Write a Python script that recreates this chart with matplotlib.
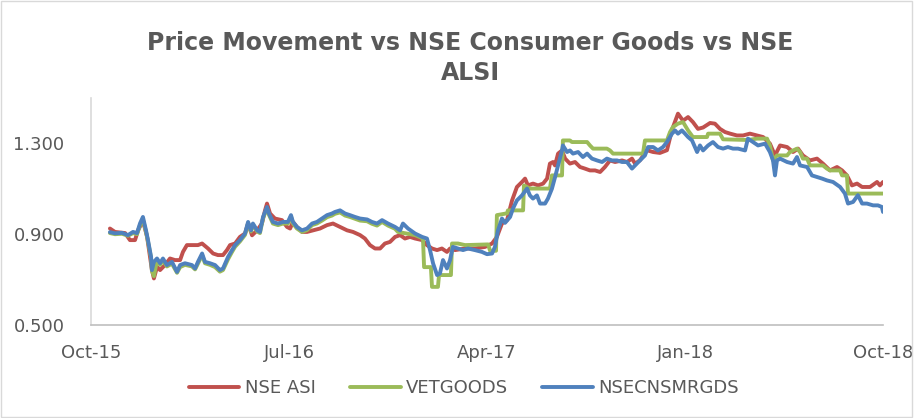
import matplotlib
matplotlib.use("Agg")
import matplotlib.pyplot as plt
from matplotlib.patches import Rectangle

# x positions are months since Oct-2015
asi_t = [0.86, 1.09, 1.55, 1.77, 2.00, 2.14, 2.36, 2.55, 2.68, 2.77, 2.86, 3.00, 3.14, 3.36,
         3.59, 3.82, 4.05, 4.18, 4.36, 4.59, 4.86, 5.05, 5.32, 5.55, 5.77, 6.00, 6.18, 6.32,
         6.55, 6.77, 7.00, 7.14, 7.32, 7.55, 7.77, 7.91, 8.00, 8.14, 8.36, 8.68, 8.91, 9.05,
         9.18, 9.36, 9.59, 9.82, 10.09, 10.41, 10.73, 11.00, 11.32, 11.64, 11.91, 12.23, 12.45,
         12.68, 12.91, 13.14, 13.36, 13.59, 13.82, 14.05, 14.27, 14.50, 14.73, 15.05, 15.27,
         15.50, 15.73, 15.95, 16.18, 16.32, 16.55, 17.00, 17.45, 17.91, 18.23, 18.45, 18.68,
         18.91, 19.14, 19.36, 19.59, 19.73, 19.86, 20.09, 20.32, 20.55, 20.73, 20.86, 21.00,
         21.09, 21.23, 21.41, 21.55, 21.77, 22.00, 22.23, 22.45, 22.68, 22.91, 23.14, 23.36,
         23.59, 23.82, 24.14, 24.36, 24.59, 24.73, 24.95, 25.27, 25.55, 25.86, 26.18, 26.41,
         26.68, 26.91, 27.14, 27.36, 27.59, 27.82, 28.14, 28.36, 28.59, 28.82, 29.05, 29.36,
         29.64, 29.95, 30.27, 30.55, 30.86, 31.09, 31.32, 31.64, 31.91, 32.14, 32.36, 32.68,
         33.00, 33.27, 33.59, 33.91, 34.14, 34.36, 34.59, 34.82, 35.05, 35.41, 35.73, 35.86, 36.00]
asi_v = [0.925, 0.910, 0.905, 0.874, 0.874, 0.917, 0.960, 0.888, 0.800, 0.742, 0.705, 0.756,
         0.742, 0.764, 0.793, 0.786, 0.786, 0.822, 0.852, 0.852, 0.852, 0.859, 0.837, 0.815,
         0.808, 0.808, 0.830, 0.852, 0.859, 0.888, 0.903, 0.947, 0.895, 0.917, 0.947, 1.005,
         1.035, 0.991, 0.969, 0.962, 0.932, 0.925, 0.954, 0.932, 0.910, 0.910, 0.917, 0.925,
         0.940, 0.947, 0.932, 0.917, 0.910, 0.896, 0.881, 0.852, 0.837, 0.837, 0.859, 0.866,
         0.888, 0.896, 0.881, 0.888, 0.881, 0.874, 0.852, 0.837, 0.830, 0.837, 0.822, 0.837,
         0.830, 0.837, 0.837, 0.844, 0.859, 0.888, 0.947, 0.962, 1.049, 1.108, 1.130, 1.145,
         1.115, 1.123, 1.115, 1.123, 1.145, 1.211, 1.218, 1.203, 1.255, 1.269, 1.233, 1.211,
         1.218, 1.196, 1.189, 1.181, 1.181, 1.174, 1.196, 1.225, 1.218, 1.225, 1.218, 1.233,
         1.211, 1.225, 1.270, 1.262, 1.258, 1.270, 1.360, 1.431, 1.400, 1.416, 1.394, 1.364,
         1.370, 1.390, 1.387, 1.364, 1.350, 1.343, 1.335, 1.335, 1.343, 1.335, 1.328, 1.299,
         1.247, 1.291, 1.284, 1.262, 1.277, 1.247, 1.225, 1.233, 1.211, 1.181, 1.196, 1.181,
         1.159, 1.115, 1.123, 1.108, 1.108, 1.130, 1.115, 1.130]

vet_t = [0.86, 1.09, 1.41, 1.68, 1.91, 2.09, 2.23, 2.36, 2.50, 2.59, 2.73, 2.77, 2.86, 3.00,
         3.14, 3.27, 3.45, 3.68, 3.91, 4.05, 4.27, 4.59, 4.73, 4.86, 5.05, 5.18, 5.41, 5.64,
         5.86, 6.00, 6.23, 6.41, 6.55, 6.77, 7.00, 7.14, 7.27, 7.36, 7.55, 7.68, 7.82, 8.00,
         8.09, 8.27, 8.50, 8.73, 8.95, 9.09, 9.18, 9.36, 9.59, 9.82, 10.05, 10.27, 10.50, 10.73,
         10.95, 11.09, 11.32, 11.55, 11.77, 12.00, 12.23, 12.55, 12.77, 13.00, 13.23, 13.50,
         13.82, 13.95, 14.73, 15.09, 15.14, 15.45, 15.50, 15.77, 15.82, 16.36, 16.41, 16.68,
         17.00, 18.05, 18.14, 18.41, 18.45, 18.91, 18.95, 19.64, 19.68, 19.95, 20.86, 20.95,
         21.41, 21.45, 21.77, 21.86, 22.55, 22.68, 22.82, 23.45, 23.59, 23.73, 25.09, 25.18,
         26.18, 26.32, 26.45, 26.68, 26.91, 27.14, 27.36, 28.00, 28.05, 28.59, 28.73, 29.86,
         30.27, 30.73, 30.86, 31.00, 31.18, 31.64, 31.77, 32.09, 32.23, 32.36, 32.55, 32.68,
         33.27, 33.45, 33.59, 34.05, 34.14, 34.36, 34.41, 36.00]
vet_v = [0.905, 0.900, 0.902, 0.893, 0.905, 0.900, 0.940, 0.965, 0.910, 0.868, 0.795, 0.738,
         0.715, 0.785, 0.765, 0.785, 0.758, 0.770, 0.730, 0.755, 0.765, 0.758, 0.745, 0.770,
         0.808, 0.772, 0.765, 0.755, 0.735, 0.742, 0.790, 0.822, 0.845, 0.868, 0.897, 0.948,
         0.912, 0.942, 0.912, 0.905, 0.970, 1.015, 0.985, 0.947, 0.940, 0.947, 0.947, 0.978,
         0.947, 0.925, 0.910, 0.918, 0.940, 0.947, 0.960, 0.975, 0.982, 0.990, 0.996, 0.982,
         0.976, 0.968, 0.960, 0.957, 0.946, 0.938, 0.954, 0.938, 0.924, 0.910, 0.896, 0.881,
         0.755, 0.755, 0.668, 0.668, 0.720, 0.720, 0.859, 0.859, 0.852, 0.855, 0.827, 0.827,
         0.984, 0.992, 1.005, 1.005, 1.115, 1.101, 1.101, 1.159, 1.159, 1.313, 1.313, 1.306,
         1.306, 1.291, 1.277, 1.277, 1.269, 1.255, 1.255, 1.313, 1.313, 1.350, 1.372, 1.387,
         1.394, 1.357, 1.328, 1.328, 1.343, 1.343, 1.318, 1.315, 1.321, 1.321, 1.291, 1.225,
         1.247, 1.247, 1.262, 1.277, 1.262, 1.233, 1.233, 1.203, 1.203, 1.189, 1.181, 1.181,
         1.159, 1.159, 1.079, 1.079]

cg_t = [0.86, 1.09, 1.41, 1.68, 1.91, 2.09, 2.23, 2.36, 2.50, 2.59, 2.73, 2.77, 2.86, 3.00,
        3.14, 3.27, 3.45, 3.68, 3.91, 4.05, 4.27, 4.59, 4.73, 4.86, 5.05, 5.18, 5.41, 5.64,
        5.86, 6.00, 6.23, 6.41, 6.55, 6.77, 7.00, 7.14, 7.27, 7.36, 7.55, 7.68, 7.82, 8.00,
        8.09, 8.27, 8.50, 8.73, 8.95, 9.09, 9.18, 9.36, 9.59, 9.82, 10.05, 10.27, 10.50, 10.73,
        10.95, 11.09, 11.32, 11.55, 11.77, 12.00, 12.23, 12.55, 12.77, 13.00, 13.23, 13.50,
        13.82, 14.05, 14.18, 14.41, 14.73, 15.05, 15.27, 15.41, 15.55, 15.73, 15.86, 16.00,
        16.18, 16.32, 16.45, 16.68, 16.91, 17.14, 17.45, 17.77, 18.00, 18.23, 18.36, 18.50,
        18.68, 18.82, 19.05, 19.18, 19.36, 19.59, 19.82, 19.95, 20.09, 20.27, 20.41, 20.64,
        20.77, 20.95, 21.09, 21.23, 21.41, 21.45, 21.64, 21.77, 21.91, 22.14, 22.36, 22.55,
        22.77, 23.00, 23.23, 23.45, 23.68, 23.91, 24.14, 24.36, 24.59, 24.73, 24.95, 25.18,
        25.32, 25.55, 25.77, 26.00, 26.18, 26.41, 26.55, 26.68, 26.86, 27.00, 27.14, 27.32,
        27.45, 27.55, 27.68, 27.82, 28.05, 28.27, 28.50, 28.73, 28.95, 29.18, 29.41, 29.73,
        29.86, 30.09, 30.32, 30.64, 30.86, 31.00, 31.09, 31.18, 31.32, 31.64, 31.91, 32.09,
        32.23, 32.55, 32.77, 33.00, 33.23, 33.45, 33.73, 34.05, 34.27, 34.41, 34.64, 34.86,
        35.05, 35.27, 35.55, 35.77, 35.95, 36.00]
cg_v = [0.909, 0.904, 0.906, 0.896, 0.910, 0.905, 0.948, 0.976, 0.917, 0.874, 0.800, 0.742,
        0.778, 0.793, 0.772, 0.793, 0.764, 0.778, 0.734, 0.764, 0.772, 0.764, 0.749, 0.778,
        0.815, 0.778, 0.772, 0.764, 0.742, 0.749, 0.800, 0.830, 0.852, 0.874, 0.903, 0.954,
        0.917, 0.947, 0.917, 0.910, 0.976, 1.020, 0.991, 0.954, 0.947, 0.954, 0.954, 0.984,
        0.954, 0.932, 0.917, 0.925, 0.947, 0.954, 0.969, 0.984, 0.991, 0.998, 1.005, 0.991,
        0.984, 0.976, 0.969, 0.965, 0.954, 0.947, 0.962, 0.947, 0.932, 0.917, 0.947, 0.925,
        0.903, 0.888, 0.881, 0.830, 0.771, 0.720, 0.727, 0.786, 0.749, 0.786, 0.844, 0.837,
        0.830, 0.837, 0.830, 0.822, 0.812, 0.815, 0.844, 0.917, 0.969, 0.950, 0.976, 1.013,
        1.049, 1.071, 1.101, 1.071, 1.057, 1.071, 1.035, 1.035, 1.057, 1.100, 1.150, 1.203,
        1.269, 1.291, 1.262, 1.269, 1.255, 1.262, 1.240, 1.255, 1.233, 1.225, 1.218, 1.233,
        1.225, 1.225, 1.218, 1.218, 1.189, 1.203, 1.225, 1.247, 1.284, 1.284, 1.269, 1.284,
        1.306, 1.343, 1.357, 1.343, 1.357, 1.343, 1.328, 1.313, 1.284, 1.262, 1.291, 1.269,
        1.291, 1.306, 1.284, 1.277, 1.284, 1.277, 1.277, 1.269, 1.321, 1.306, 1.291, 1.299,
        1.262, 1.225, 1.159, 1.225, 1.233, 1.218, 1.211, 1.240, 1.203, 1.196, 1.159, 1.152,
        1.145, 1.137, 1.130, 1.108, 1.079, 1.035, 1.042, 1.072, 1.035, 1.035, 1.027, 1.027,
        1.020, 0.998]

tick_pos = [0, 9, 18, 27, 36]
tick_lbl = ["Oct-15", "Jul-16", "Apr-17", "Jan-18", "Oct-18"]
y_ticks = [0.5, 0.9, 1.3]

txt = "#595959"
fig = plt.figure(figsize=(9.14, 4.18), dpi=100)
ax = fig.add_axes([91 / 914, 1 - 325 / 418, 792 / 914, 227 / 418])

ax.plot(asi_t, asi_v, color="#C0504D", lw=2.8, label="NSE ASI",
        solid_capstyle="round", solid_joinstyle="round")
ax.plot(vet_t, vet_v, color="#9BBB59", lw=2.8, label="VETGOODS",
        solid_capstyle="round", solid_joinstyle="round")
ax.plot(cg_t, cg_v, color="#4F81BD", lw=2.8, label="NSECNSMRGDS",
        solid_capstyle="round", solid_joinstyle="round")

ax.set_xlim(0, 36)
ax.set_ylim(0.5, 1.5)
ax.set_xticks(tick_pos)
ax.set_xticklabels(tick_lbl)
ax.set_yticks(y_ticks)
ax.set_yticklabels([f"{v:.3f}" for v in y_ticks])
ax.tick_params(length=0, labelsize=13, colors=txt)
ax.tick_params(axis="y", pad=19)
ax.tick_params(axis="x", pad=14)
for s in ["top", "right"]:
    ax.spines[s].set_visible(False)
ax.spines["left"].set_color("#D9D9D9")
ax.spines["bottom"].set_color("#BFBFBF")
ax.spines["left"].set_linewidth(1.2)
ax.spines["bottom"].set_linewidth(1.2)

fig.text(470 / 914, 1 - 58 / 418, "Price Movement vs NSE Consumer Goods vs NSE\nALSI",
         ha="center", va="center", fontsize=17, fontweight="bold", color=txt, linespacing=1.3)

fig.legend(loc="center", bbox_to_anchor=(464 / 914, 1 - 388 / 418), ncol=3, frameon=False,
           fontsize=13, handlelength=2.8, handletextpad=0.3, columnspacing=1.9,
           labelcolor=txt)

fig.patches.append(Rectangle((0.001, 0.002), 0.997, 0.996, transform=fig.transFigure,
                             fill=False, edgecolor="#D9D9D9", lw=1))

fig.savefig("out.png", dpi=100)
